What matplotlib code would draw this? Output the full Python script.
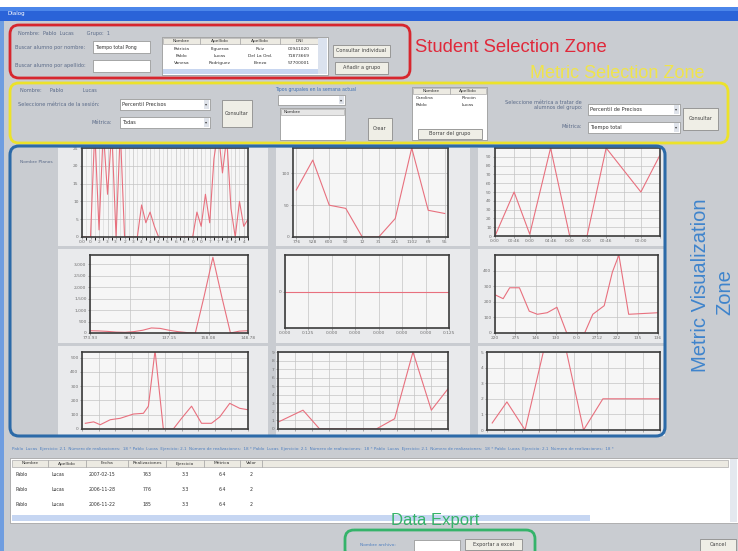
import numpy as np
import matplotlib
matplotlib.use("Agg")
import matplotlib.pyplot as plt
from matplotlib.patches import Rectangle, FancyBboxPatch

plt.rcParams['font.family'] = ['DejaVu Sans']

W, H = 738, 551

# ---- chart data ----
c1_vals = [0, 0, 0, 30, 2, 30, 12, 30, 0, 30, 0, 0, 0, 0, 9, 4, 7, 3, 0, 0,
           0, 0, 0, 0, 0, 0, 0, 7, 3, 12, 4, 22, 30, 18, 28, 8, 0, 10, 3, 5]
c1_labels = ['0.0', '0.', '2', '3', '3.', '2', '3', '4', '4', '4', '5', '6',
             '6', '0', '0', '7', '7', '8', '4', '4']

c2_vals = [74, 121, 50, 45, 0, 0, 29, 140, 42, 37]
c2_labels = ['776', '528', '600', '90', '12', '31', '241', '1102', '69', '55']

c3_x = [0, 11, 20, 32, 43, 53, 64, 74, 84, 95]
c3_vals = [0, 50, 2, 100, 0, 0, 100, 75, 50, 92]
c3_labels = ['0:00', '00:46', '0:00', '04:46', '0:00', '0:00', '00:46', '', '00:00', '']

c4_vals = [100, 90, 70, 40, 30, 60, 120, 220, 200, 120, 60, 20, 0, 1600,
           3300, 1600, 0, 80, 100]
c4_labels = ['773.93', '98.72', '137.15', '158.08', '148.78']

c5_vals = [0, 0, 0, 0, 0, 0, 0, 0]
c5_labels = ['0.000', '0.125', '0.000', '0.000', '0.000', '0.000', '0.000', '0.125']

c6_x = [0, 5, 9, 15, 21, 26, 32, 38, 44, 55, 60, 67, 72, 76, 82, 100]
c6_vals = [245, 220, 290, 290, 140, 120, 130, 165, 0, 0, 120, 175, 390, 500, 120, 130]
c6_labels = ['220', '275', '146', '130', '0 0', '2712', '222', '135', '136']

c7_x = [2, 7, 11, 17, 23, 31, 37, 40, 44, 49, 55, 60, 66, 72, 78, 83, 89, 95, 100]
c7_vals = [40, 50, 30, 65, 75, 105, 110, 160, 550, 0, 0, 75, 160, 40, 40, 85, 180, 145, 135]

c8_x = [0, 14.7, 24.5, 57.8, 68.6, 79.4, 90.2, 100]
c8_vals = [0.8, 2.2, 0, 0, 1.2, 9, 2.2, 4.7]

c9_x = [3, 11.5, 22, 33.6, 45, 55.8, 67, 80, 100]
c9_vals = [0.45, 1.8, 0, 5.5, 5.5, 0, 2, 2, 2]

# ---- table data ----
table_cols = ['Nombre', 'Apellido', 'Fecha', 'Realizaciones', 'Ejercicio', 'Métrica', 'Valor']
table_rows = [['Pablo', 'Lucas', '2007-02-15', '763', '3.3', '6.4', '2'],
              ['Pablo', 'Lucas', '2006-11-28', '776', '3.3', '6.4', '2'],
              ['Pablo', 'Lucas', '2006-11-22', '185', '3.3', '6.4', '2']]

students = [['Patricia', 'Figueroa', 'Ruiz', '00941020'],
            ['Pablo', 'Lucas', 'Del La Ord.', '71873669'],
            ['Vanesa', 'Rodriguez', 'Benzo', '57700001']]

GRAY = '#c9ccd1'
TXT = '#5a6a88'
RED_LINE = '#e8707e'

fig = plt.figure(figsize=(W / 100, H / 100), dpi=100)
fig.patch.set_facecolor('white')
bg = fig.add_axes([0, 0, 1, 1])
bg.set_xlim(0, W)
bg.set_ylim(H, 0)
bg.axis('off')


def box(x0, y0, x1, y1, fc, ec='none', lw=0.6, z=1, a=bg):
    a.add_patch(Rectangle((x0, y0), x1 - x0, y1 - y0, fc=fc, ec=ec, lw=lw, zorder=z))


def txt(x, y, s, size=3.6, color=TXT, ha='left', z=5, **kw):
    bg.text(x, y, s, fontsize=size, color=color, ha=ha, va='center', zorder=z, **kw)


def button(x0, y0, x1, y1, s):
    box(x0, y0, x1, y1, '#efeee6', '#8c8c8c', 0.6, 3)
    txt((x0 + x1) / 2, (y0 + y1) / 2, s, ha='center', color='#404040')


def combo(x0, y0, x1, y1, s):
    box(x0, y0, x1, y1, 'white', '#8c8c8c', 0.5, 3)
    box(x1 - 6, y0 + 1, x1 - 1, y1 - 1, '#dfe3ea', 'none', 0, 4)
    txt(x1 - 3.5, (y0 + y1) / 2, '▾', size=3, ha='center', color='#404040')
    txt(x0 + 2, (y0 + y1) / 2, s, color='#303030')


# window frame
box(0, 7, W, H, GRAY)
box(0, 7, W, 21, '#2a63d8')
box(0, 7, W, 11, '#4b86ea')
txt(8, 14, 'Dialog', size=4, color='white')
box(0, 21, 4, H, '#6f9de0', z=2)

# ---- student selection ----
txt(18, 33, 'Nombre:  Pablo  Lucas        Grupo:  1')
txt(15, 47, 'Buscar alumno por nombre:')
box(93, 41, 150, 53, 'white', '#8c8c8c', 0.5, 3)
txt(95, 47, 'Tiempo total Pong', color='#303030', size=3.3)
txt(15, 66, 'Buscar alumno por apellido:')
box(93, 60, 150, 72, 'white', '#8c8c8c', 0.5, 3)
box(162, 37, 328, 75, 'white', '#8c8c8c', 0.5, 2)
hx = [163, 200, 240, 280, 318]
for i, h in enumerate(['Nombre', 'Apellido', 'Apellido', 'DNI']):
    box(hx[i], 38, hx[i + 1], 44, '#eceae2', '#9a9a9a', 0.4, 3)
    txt((hx[i] + hx[i + 1]) / 2, 41, h, ha='center', color='#303030', size=3.2)
for r, row in enumerate(students):
    for i, v in enumerate(row):
        txt((hx[i] + hx[i + 1]) / 2, 49 + r * 7, v, ha='center', color='#303030', size=3.2)
box(318, 38, 327, 74, '#dbe2ee', 'none', 0, 3)
box(163, 69, 318, 74, '#c8d6f0', 'none', 0, 3)
button(333, 45, 390, 57, 'Consultar individual')
button(335, 62, 388, 74, 'Añadir a grupo')

# ---- metric selection ----
txt(20, 91, 'Nombre:     Pablo            Lucas')
txt(18, 104, 'Seleccione métrica de la sesión:')
combo(120, 99, 210, 110, 'Percentil Precisos')
txt(112, 122, 'Métrica:', ha='right')
combo(120, 117, 210, 128, 'Todas')
button(222, 100, 252, 127, 'Consultar')
txt(275, 89, 'Tipos grupales en la semana actual', color='#4070b0', size=3.3)
combo(278, 95, 345, 105, '')
box(280, 108, 345, 140, 'white', '#8c8c8c', 0.5, 2)
box(281, 109, 344, 115, '#e6e6e6', '#9a9a9a', 0.4, 3)
txt(284, 112, 'Nombre', color='#303030', size=3.2)
button(368, 118, 392, 140, 'Crear')
box(412, 87, 487, 140, 'white', '#8c8c8c', 0.5, 2)
box(413, 88, 450, 94, '#eceae2', '#9a9a9a', 0.4, 3)
box(450, 88, 486, 94, '#eceae2', '#9a9a9a', 0.4, 3)
txt(431, 91, 'Nombre', ha='center', color='#303030', size=3.2)
txt(468, 91, 'Apellido', ha='center', color='#303030', size=3.2)
txt(416, 98, 'Carolina', color='#303030', size=3.2)
txt(462, 98, 'Rincón', color='#303030', size=3.2)
txt(416, 105, 'Pablo', color='#303030', size=3.2)
txt(462, 105, 'Lucas', color='#303030', size=3.2)
button(418, 129, 482, 139, 'Borrar del grupo')
txt(582, 105, 'Seleccione métrica a tratar de\nalumnos del grupo:', ha='right', linespacing=1.1)
combo(588, 104, 680, 115, 'Percentil de Precisos')
txt(582, 127, 'Métrica:', ha='right')
combo(588, 122, 680, 133, 'Tiempo total')
button(683, 108, 718, 130, 'Consultar')

# ---- chart cards ----
txt(20, 162, 'Nombre Planos', size=3.2)
for (x0, x1) in [(58, 268), (276, 470), (478, 665)]:
    for (y0, y1) in [(148, 246), (249, 343), (346, 436)]:
        box(x0, y0, x1, y1, '#e9eaec', 'none', 0, 1)

# status line and table
txt(12, 449, ('Pablo  Lucas  Ejercicio: 2.1  Número de realizaciones:  18 * ' * 5),
    size=3.0, color='#5080c0')
box(10, 458, W, 523, 'white', '#9a9a9a', 0.5, 2)
tx = [12, 48, 86, 128, 166, 204, 240, 262]
for i, c in enumerate(table_cols):
    box(tx[i], 460, tx[i + 1], 467, '#eceae2', '#9a9a9a', 0.4, 3)
    txt((tx[i] + tx[i + 1]) / 2, 463.5, c, ha='center', color='#303030', size=3.2)
box(262, 460, 728, 467, '#eceae2', '#9a9a9a', 0.4, 3)
for r, row in enumerate(table_rows):
    for i, v in enumerate(row):
        txt(tx[i] + 3 if i < 3 else (tx[i] + tx[i + 1]) / 2, 474 + r * 15.5, v,
            ha='left' if i < 3 else 'center', color='#303030', size=3.3)
box(12, 515, 590, 521, '#c6d6f2', 'none', 0, 3)
box(730, 459, 737, 522, '#e4e8ef', 'none', 0, 3)

txt(435, 520, 'Data Export', size=12, color='#35b36a', ha='center', z=8,
    family='Liberation Sans')
txt(360, 545, 'Nombre archivo:', size=3.2, color='#5080c0')
box(414, 540, 460, 551, 'white', '#8c8c8c', 0.5, 3)
button(465, 539, 522, 550, 'Exportar a excel')
button(700, 539, 736, 551, 'Cancel')


# ---- the nine metric charts ----
def chart(x0, y0, x1, y1):
    a = fig.add_axes([x0 / W, 1 - y1 / H, (x1 - x0) / W, (y1 - y0) / H])
    a.set_facecolor('#f6f6f6')
    for s in a.spines.values():
        s.set_color('#3c3c3c')
        s.set_linewidth(1.2)
    a.tick_params(labelsize=3.2, colors='#707070', length=1.5, width=0.4, pad=1)
    a.grid(True, color='#c4c4c4', lw=0.5)
    a.set_axisbelow(True)
    return a


def draw(a, x, y):
    a.plot(x, y, color=RED_LINE, lw=0.8)


a = chart(82, 148, 248, 237)
draw(a, np.arange(len(c1_vals)), c1_vals)
a.set_xlim(0, len(c1_vals) - 1)
a.set_ylim(0, 25)
a.set_yticks(range(0, 26, 5))
a.set_xticks(np.arange(0, len(c1_vals), 2))
a.set_xticklabels(c1_labels)
a.set_xticks(np.arange(len(c1_vals)), minor=True)
a.grid(True, which='minor', color='#d4d4d4', lw=0.4)

a = chart(293, 148, 448, 237)
draw(a, np.arange(len(c2_vals)), c2_vals)
a.set_xlim(-0.2, len(c2_vals) - 0.8)
a.set_ylim(0, 140)
a.set_yticks([0, 50, 100])
a.set_xticks(np.arange(len(c2_vals)))
a.set_xticklabels(c2_labels)

a = chart(495, 148, 660, 236)
draw(a, c3_x, c3_vals)
a.set_xlim(0, 95)
a.set_ylim(0, 100)
a.set_yticks(range(0, 100, 10))
a.set_xticks(c3_x)
a.set_xticklabels(c3_labels)

a = chart(90, 255, 248, 333)
draw(a, np.arange(len(c4_vals)), c4_vals)
a.set_xlim(0, len(c4_vals) - 1)
a.set_ylim(0, 3400)
a.set_yticks(range(0, 3001, 500))
a.set_yticklabels(['0', '500', '1,000', '1,500', '2,000', '2,500', '3,000'])
a.set_xticks(np.linspace(0, len(c4_vals) - 1, 5))
a.set_xticklabels(c4_labels)

a = chart(285, 255, 449, 328)
draw(a, np.arange(len(c5_vals)), c5_vals)
a.set_xlim(0, len(c5_vals) - 1)
a.set_ylim(-1, 1)
a.set_yticks([0])
a.set_xticks(np.arange(len(c5_vals)))
a.set_xticklabels(c5_labels)

a = chart(495, 255, 658, 333)
draw(a, c6_x, c6_vals)
a.set_xlim(0, 100)
a.set_ylim(0, 500)
a.set_yticks(range(0, 401, 100))
a.set_xticks(np.linspace(0, 100, len(c6_labels)))
a.set_xticklabels(c6_labels)

a = chart(82, 352, 248, 429)
draw(a, c7_x, c7_vals)
a.set_xlim(0, 100)
a.set_ylim(0, 540)
a.set_yticks(range(0, 501, 100))
a.set_xticks(np.arange(0, 101, 10))
a.set_xticklabels([''] * 11)

a = chart(278, 352, 448, 429)
draw(a, c8_x, c8_vals)
a.set_xlim(0, 100)
a.set_ylim(0, 9)
a.set_yticks(range(0, 10))
a.set_xticks(np.arange(0, 101, 10))
a.set_xticklabels([''] * 11)

a = chart(487, 352, 660, 430)
draw(a, c9_x, c9_vals)
a.set_xlim(0, 100)
a.set_ylim(0, 5)
a.set_yticks(range(0, 6))
a.set_xticks(np.arange(0, 101, 10))
a.set_xticklabels([''] * 11)

# ---- overlay with zone outlines and annotations ----
ov = fig.add_axes([0, 0, 1, 1])
ov.set_xlim(0, W)
ov.set_ylim(H, 0)
ov.axis('off')
ov.patch.set_alpha(0)


def zone(x0, y0, x1, y1, color, lw=2.0):
    ov.add_patch(FancyBboxPatch((x0, y0), x1 - x0, y1 - y0,
                                boxstyle='round,pad=0,rounding_size=9',
                                fc='none', ec=color, lw=lw))


zone(10, 25, 410, 78, '#d7262e')
zone(10, 83, 728, 143, '#ece22a')
zone(10, 146, 665, 436, '#2c6aa8', lw=2.2)
zone(345, 530, 535, 560, '#35b36a')

ov.text(415, 47, 'Student Selection Zone', fontsize=13.3, color='#e0283a',
        ha='left', va='center', family='Liberation Sans')
ov.text(530, 74, 'Metric Selection Zone', fontsize=13, color='#f0e44a',
        ha='left', va='center', family='Liberation Sans')
ov.text(701, 285, 'Metric Visualization', fontsize=14.5, color='#3f84cc',
        ha='center', va='center', rotation=90, family='Liberation Sans')
ov.text(725, 292, 'Zone', fontsize=14.5, color='#3f84cc',
        ha='center', va='center', rotation=90, family='Liberation Sans')

fig.savefig('out.png', dpi=100)
